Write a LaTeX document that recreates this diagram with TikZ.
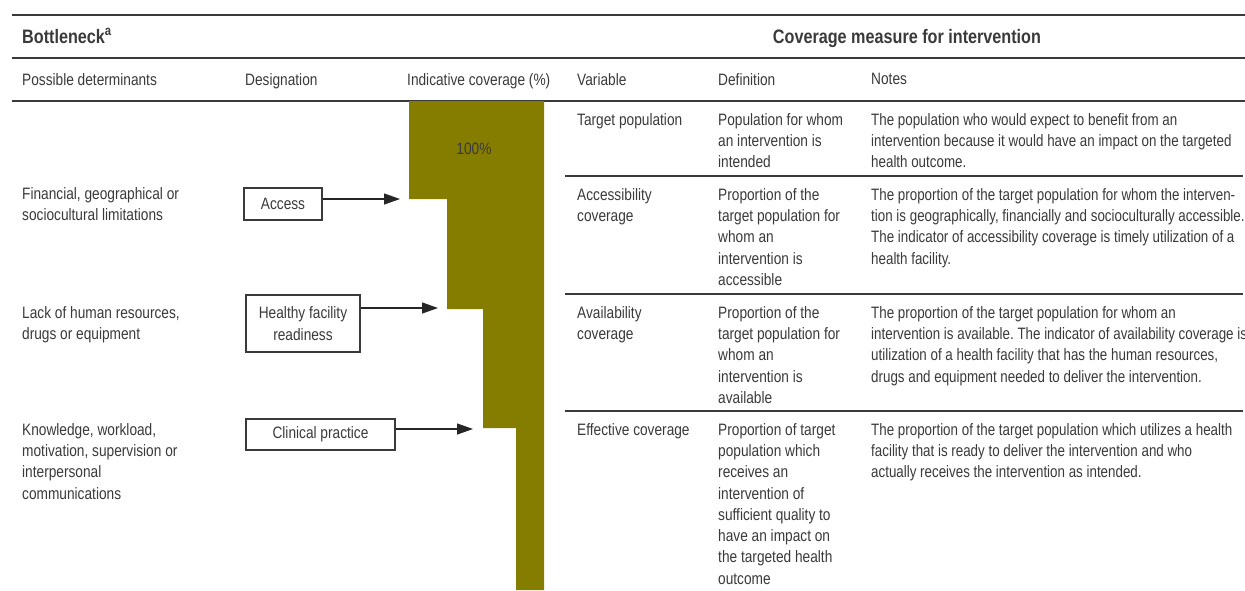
\documentclass[tikz,border=0pt]{standalone}
\usepackage{fontspec}
\setmainfont{Liberation Sans}[FakeStretch=0.83]
\newfontfamily\notefont{Liberation Sans}[FakeStretch=0.81]
\usetikzlibrary{arrows.meta}
\definecolor{ink}{HTML}{3A3A3A}
\definecolor{barolive}{HTML}{857D00}
\frenchspacing
\tikzset{
  cell/.style={anchor=north west, inner sep=0pt, align=left, text=ink,
    font=\fontsize{16.5}{21.3}\selectfont},
  note/.style={cell, font=\notefont\fontsize{16.5}{21.3}\selectfont},
  head/.style={anchor=base west, inner sep=0pt, text=ink,
    font=\fontsize{19.5}{22}\selectfont\bfseries},
  rule/.style={draw=ink, line width=1.4pt},
  desig/.style={draw=ink, line width=1.2pt, inner sep=0pt, align=center, text=ink,
    font=\fontsize{16.5}{21.3}\selectfont},
  flow/.style={draw=black!85, line width=1.3pt, -{Triangle[length=16pt,width=11pt]}}
}
\begin{document}
\begin{tikzpicture}[x=1pt,y=-1pt]
\useasboundingbox (0,0) rectangle (1245,590);

% rules
\draw[rule] (12,15) -- (1245,15);
\draw[rule] (12,58) -- (1245,58);
\draw[rule] (12,101) -- (1245,101);
\draw[rule] (565,176) -- (1243,176);
\draw[rule] (565,294) -- (1243,294);
\draw[rule] (565,411) -- (1243,411);

% headings
\node[head] (bneck) at (22,43) {Bottleneck\textsuperscript{a}};
\node[head, anchor=base] (cover) at (907,43) {Coverage measure for intervention};

\node[cell] (hdet) at (22,73) {Possible determinants};
\node[cell] (hdes) at (245,73) {Designation};
\node[cell] (hind) at (407,73) {Indicative coverage (\%)};
\node[cell] (hvar) at (577,73) {Variable};
\node[cell] (hdef) at (718,73) {Definition};
\node[cell] (hnot) at (871,73) {Notes};

% coverage bar
\fill[barolive] (409,101) -- (544,101) -- (544,590) -- (516,590) -- (516,428)
  -- (483,428) -- (483,309) -- (447,309) -- (447,199) -- (409,199) -- cycle;
\node[cell, anchor=center] (pct) at (474,149) {100\%};

% determinants
\node[cell] (det1) at (22,187) {Financial, geographical or\\sociocultural limitations};
\node[cell] (det2) at (22,306) {Lack of human resources,\\drugs or equipment};
\node[cell] (det3) at (22,423) {Knowledge, workload,\\motivation, supervision or\\interpersonal\\communications};

% designations
\node[desig, minimum width=78pt, minimum height=32pt] (access) at (283,204) {Access};
\node[desig, minimum width=114pt, minimum height=57pt] (ready) at (303,323.5) {Healthy facility\\readiness};
\node[desig, minimum width=149pt, minimum height=31pt] (clinic) at (320.5,434.5) {Clinical practice};

\coordinate (a1) at (400,199);
\coordinate (a2) at (438,308);
\coordinate (a3) at (473,429);
\draw[flow] (access.east |- a1) -- (a1);
\draw[flow] (ready.east |- a2) -- (a2);
\draw[flow] (clinic.east |- a3) -- (a3);

% variables
\node[cell] (var1) at (577,113) {Target population};
\node[cell] (var2) at (577,188) {Accessibility\\coverage};
\node[cell] (var3) at (577,306) {Availability\\coverage};
\node[cell] (var4) at (577,423) {Effective coverage};

% definitions
\node[cell] (def1) at (718,113) {Population for whom\\an intervention is\\intended};
\node[cell] (def2) at (718,188) {Proportion of the\\target population for\\whom an\\intervention is\\accessible};
\node[cell] (def3) at (718,306) {Proportion of the\\target population for\\whom an\\intervention is\\available};
\node[cell] (def4) at (718,423) {Proportion of target\\population which\\receives an\\intervention of\\sufficient quality to\\have an impact on\\the targeted health\\outcome};

% notes
\node[note] (not1) at (871,113) {The population who would expect to benefit from an\\intervention because it would have an impact on the targeted\\health outcome.};
\node[note] (not2) at (871,188) {The proportion of the target population for whom the interven-\\tion is geographically, financially and socioculturally accessible.\\The indicator of accessibility coverage is timely utilization of a\\health facility.};
\node[note] (not3) at (871,306) {The proportion of the target population for whom an\\intervention is available. The indicator of availability coverage is\\utilization of a health facility that has the human resources,\\drugs and equipment needed to deliver the intervention.};
\node[note] (not4) at (871,423) {The proportion of the target population which utilizes a health\\facility that is ready to deliver the intervention and who\\actually receives the intervention as intended.};
\end{tikzpicture}
\end{document}
